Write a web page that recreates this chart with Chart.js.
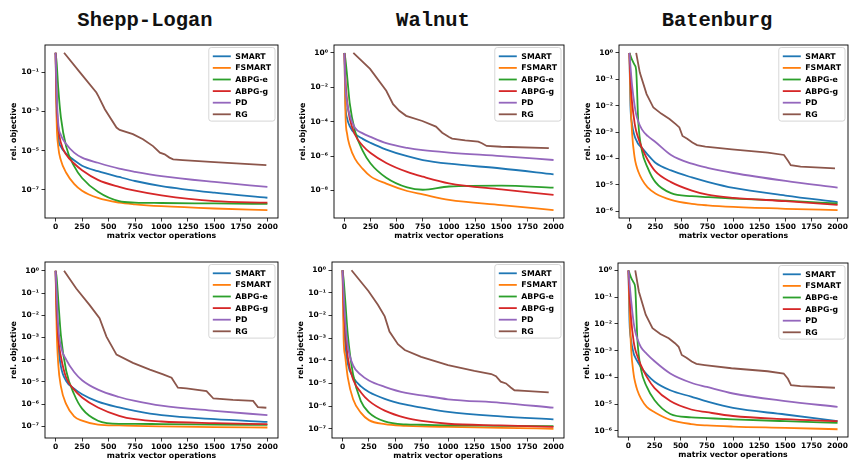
<!DOCTYPE html>
<html>
<head>
<meta charset="utf-8">
<script src="https://cdn.jsdelivr.net/npm/chart.js@4.4.1/dist/chart.umd.min.js"></script>
<style>
  body { margin: 0; background: #fff; width: 849px; height: 460px; position: relative; overflow: hidden; }
  canvas { position: absolute; }
  .title { position: absolute; top: 11px; font: bold 20.5px "Liberation Mono", monospace; color: #111;
           transform: translateX(-50%); white-space: nowrap; line-height: 1; }
</style>
</head>
<body>
<div class="title" style="left:145px">Shepp-Logan</div>
<div class="title" style="left:433px">Walnut</div>
<div class="title" style="left:717px">Batenburg</div>
<canvas id="p1"></canvas>
<canvas id="p2"></canvas>
<canvas id="p3"></canvas>
<canvas id="p4"></canvas>
<canvas id="p5"></canvas>
<canvas id="p6"></canvas>
<script>
// ---- data ----
const seriesNames = ['SMART', 'FSMART', 'ABPG-e', 'ABPG-g', 'PD', 'RG'];
const xTicks = [0, 250, 500, 750, 1000, 1250, 1500, 1750, 2000];

// matrix vector operations at which the smooth curves were read
const xGrid = [0, 10, 25, 50, 100, 175, 250, 400, 600, 750, 1000, 1500, 2000];
const xGridBaten = [0, 10, 25, 50, 65, 85, 120, 175, 250, 400, 600, 750, 1000, 1500, 2000];

// Shepp-Logan, top row
const sheppTopSmart = [1, 1e-3, 4.5e-5, 1.6e-5, 7.1e-6, 3.2e-6, 1.7e-6, 8.9e-7, 4.5e-7, 2.8e-7, 1.55e-7, 7.1e-8, 3.9e-8];
const sheppTopFsmart = [1, 3.2e-4, 1.6e-5, 3.2e-6, 7.4e-7, 2.0e-7, 8.9e-8, 3.8e-8, 2.2e-8, 1.8e-8, 1.45e-8, 1.1e-8, 9.1e-9];
const sheppTopAbpgE = [1, 0.32, 1.6e-2, 5.0e-4, 1.6e-5, 1.6e-6, 4.0e-7, 7.9e-8, 2.6e-8, 2.2e-8, 2.1e-8, 2.0e-8, 1.9e-8];
const sheppTopAbpgG = [1, 3.2e-3, 1.6e-4, 2.5e-5, 6.3e-6, 2.2e-6, 1e-6, 3.2e-7, 1.4e-7, 8.9e-8, 5.1e-8, 2.6e-8, 2.2e-8];
const sheppTopPd = [1, 1e-2, 2.5e-4, 6.3e-5, 2.2e-5, 7.9e-6, 4.4e-6, 2.4e-6, 1.2e-6, 8.3e-7, 5.0e-7, 2.5e-7, 1.4e-7];
const sheppTopRgX = [80, 230, 385, 405, 465, 575, 605, 730, 825, 920, 985, 1030, 1075, 1110, 1200, 1500, 1990];
const sheppTopRg = [1, 0.1, 9.3e-3, 5.9e-3, 1.3e-3, 1.5e-4, 1.15e-4, 6.9e-5, 3.8e-5, 1.7e-5, 7.9e-6, 6.5e-6, 4.4e-6, 3.6e-6, 3.3e-6, 2.6e-6, 1.8e-6];

// Walnut, top row
const walnutTopSmart = [1, 1e-3, 1.6e-4, 5.6e-5, 2.0e-5, 1e-5, 5.9e-6, 2.4e-6, 9.8e-7, 5.9e-7, 3.6e-7, 1.9e-7, 8.7e-8];
const walnutTopFsmart = [1, 2.5e-4, 2.0e-5, 4.0e-6, 7.1e-7, 1.8e-7, 6.6e-8, 2.5e-8, 9.3e-9, 5.9e-9, 2.8e-9, 1.4e-9, 7.2e-10];
const walnutTopAbpgE = [1, 0.4, 5.0e-2, 1.26e-3, 3.0e-5, 2.0e-6, 3.7e-7, 5.5e-8, 1.5e-8, 1.1e-8, 1.7e-8, 1.9e-8, 1.45e-8];
const walnutTopAbpgG = [1, 2.5e-2, 1.6e-3, 1.6e-4, 1.8e-5, 4.0e-6, 1.5e-6, 4.0e-7, 1.2e-7, 6.3e-8, 2.6e-8, 1.15e-8, 5.6e-9];
const walnutTopPd = [1, 1e-2, 1.26e-3, 2.5e-4, 4.5e-5, 2.1e-5, 1.3e-5, 5.6e-6, 3.0e-6, 2.2e-6, 1.6e-6, 1.0e-6, 5.9e-7];
const walnutTopRgX = [85, 245, 400, 465, 525, 590, 745, 875, 935, 1000, 1030, 1155, 1280, 1315, 1360, 1500, 1955];
const walnutTopRg = [1, 0.117, 6.3e-3, 1.05e-3, 4.3e-4, 2.2e-4, 1.1e-4, 5.2e-5, 2.3e-5, 1.3e-5, 1.05e-5, 8.3e-6, 6.9e-6, 5.6e-6, 3.9e-6, 3.5e-6, 2.9e-6];

// Batenburg, top row
const batenTopSmart = [1, 1e-2, 2.0e-3, 7.1e-4, 5.0e-4, 3.5e-4, 2.5e-4, 1.4e-4, 6.9e-5, 3.5e-5, 1.9e-5, 1.3e-5, 7.6e-6, 3.9e-6, 2.2e-6];
const batenTopFsmart = [1, 2.5e-2, 1e-3, 1.1e-4, 5.6e-5, 3.2e-5, 1.6e-5, 7.9e-6, 4.7e-6, 2.7e-6, 1.9e-6, 1.66e-6, 1.45e-6, 1.23e-6, 1.1e-6];
const batenTopAbpgE = [1, 0.79, 0.56, 0.35, 0.22, 2.5e-3, 2.0e-4, 4.5e-5, 1.26e-5, 4.8e-6, 3.7e-6, 3.4e-6, 3.0e-6, 2.5e-6, 1.95e-6];
const batenTopAbpgG = [1, 0.1, 1.4e-2, 2.2e-3, 1.1e-3, 6.0e-4, 2.5e-4, 8.9e-5, 3.2e-5, 1.26e-5, 6.0e-6, 4.2e-6, 3.2e-6, 2.4e-6, 1.74e-6];
const batenTopPd = [1, 0.32, 6.3e-2, 1e-2, 4.7e-3, 2.5e-3, 1.26e-3, 7.1e-4, 4.2e-4, 1.35e-4, 6.3e-5, 4.4e-5, 2.8e-5, 1.4e-5, 7.8e-6];
const batenTopRgX = [65, 100, 165, 230, 305, 385, 445, 480, 510, 555, 605, 650, 730, 985, 1330, 1485, 1525, 1550, 1645, 1975];
const batenTopRg = [1, 0.18, 2.75e-2, 8.5e-3, 5.0e-3, 3.1e-3, 2.0e-3, 1.5e-3, 7.1e-4, 5.6e-4, 4.0e-4, 3.2e-4, 2.8e-4, 2.2e-4, 1.66e-4, 1.35e-4, 7.9e-5, 5.5e-5, 4.9e-5, 4.2e-5];

// Shepp-Logan, bottom row
const sheppBotSmart = [1, 1e-2, 5e-4, 5e-5, 1.1e-5, 5e-6, 2.8e-6, 1.3e-6, 7.1e-7, 5e-7, 3.2e-7, 2.1e-7, 1.6e-7];
const sheppBotFsmart = [1, 2.5e-3, 6.3e-5, 6.3e-6, 1e-6, 2.8e-7, 1.8e-7, 1.2e-7, 1.1e-7, 1.05e-7, 1.0e-7, 9.3e-8, 8.9e-8];
const sheppBotAbpgE = [1, 0.5, 5e-2, 1.26e-3, 3.2e-5, 2.8e-6, 6.3e-7, 1.8e-7, 1.3e-7, 1.3e-7, 1.26e-7, 1.2e-7, 1.17e-7];
const sheppBotAbpgG = [1, 2.5e-2, 1e-3, 1.4e-4, 1.55e-5, 4.5e-6, 2.0e-6, 7.1e-7, 3.0e-7, 2.1e-7, 1.66e-7, 1.4e-7, 1.26e-7];
const sheppBotPd = [1, 0.1, 3.2e-3, 4e-4, 1.0e-4, 2.8e-5, 1.2e-5, 4.5e-6, 2.1e-6, 1.4e-6, 8.5e-7, 5e-7, 3.2e-7];
const sheppBotRgX = [80, 195, 320, 415, 480, 575, 730, 890, 1015, 1095, 1155, 1235, 1425, 1490, 1675, 1865, 1910, 1990];
const sheppBotRg = [1, 0.16, 2.95e-2, 7.4e-3, 1.1e-3, 1.7e-4, 7.2e-5, 3.6e-5, 2.2e-5, 1.55e-5, 5.5e-6, 5.1e-6, 3.9e-6, 1.8e-6, 1.55e-6, 1.4e-6, 7.4e-7, 6.9e-7];

// Walnut, bottom row
const walnutBotSmart = [1, 1e-2, 6.3e-4, 7.4e-5, 1.9e-5, 7.4e-6, 4.2e-6, 2.1e-6, 1.15e-6, 8.5e-7, 5.5e-7, 3.5e-7, 2.6e-7];
const walnutBotFsmart = [1, 1e-3, 1.6e-4, 1.8e-5, 2e-6, 5e-7, 2.4e-7, 1.6e-7, 1.35e-7, 1.26e-7, 1.2e-7, 1.1e-7, 1e-7];
const walnutBotAbpgE = [1, 0.4, 5e-2, 1.4e-3, 2.5e-5, 1.6e-6, 5.2e-7, 2.1e-7, 1.55e-7, 1.5e-7, 1.4e-7, 1.35e-7, 1.3e-7];
const walnutBotAbpgG = [1, 4e-2, 2.5e-3, 1.4e-4, 1.5e-5, 4e-6, 1.7e-6, 6.3e-7, 3e-7, 2.2e-7, 1.66e-7, 1.4e-7, 1.2e-7];
const walnutBotPd = [1, 0.1, 6.3e-3, 4.5e-4, 6.3e-5, 2.4e-5, 1.35e-5, 7.1e-6, 3.8e-6, 3.0e-6, 2e-6, 1.4e-6, 8.5e-7];
const walnutBotRgX = [85, 245, 335, 400, 445, 525, 590, 745, 1000, 1250, 1410, 1455, 1500, 1550, 1595, 1630, 1725, 1955];
const walnutBotRg = [1, 0.12, 3.0e-2, 9.1e-3, 1.95e-3, 5.4e-4, 3.0e-4, 1.5e-4, 6.5e-5, 3.6e-5, 2.6e-5, 2.1e-5, 1.2e-5, 1.0e-5, 6.6e-6, 5.0e-6, 4.7e-6, 4.0e-6];

// Batenburg, bottom row
const batenBotSmart = [1, 1.26e-2, 2.5e-3, 7.9e-4, 5.6e-4, 4e-4, 2.4e-4, 1.3e-4, 6.9e-5, 3.3e-5, 1.9e-5, 1.26e-5, 7.2e-6, 4.1e-6, 2.3e-6];
const batenBotFsmart = [1, 4e-2, 1.26e-3, 1.26e-4, 6.3e-5, 3.3e-5, 1.6e-5, 7.9e-6, 5e-6, 2.6e-6, 1.8e-6, 1.6e-6, 1.45e-6, 1.3e-6, 1.15e-6];
const batenBotAbpgE = [1, 0.79, 0.54, 0.35, 0.22, 2.8e-3, 2e-4, 4.5e-5, 1.4e-5, 4.3e-6, 3.2e-6, 3.0e-6, 2.7e-6, 2.3e-6, 2e-6];
const batenBotAbpgG = [1, 0.126, 1.6e-2, 2.2e-3, 1.1e-3, 6.3e-4, 2.8e-4, 1.05e-4, 4e-5, 1.3e-5, 6.3e-6, 5e-6, 3.6e-6, 2.75e-6, 2.3e-6];
const batenBotPd = [1, 0.35, 7.9e-2, 1.1e-2, 5.2e-3, 2.8e-3, 1.35e-3, 7.6e-4, 4e-4, 1.4e-4, 6.3e-5, 4.4e-5, 2.5e-5, 1.3e-5, 7.9e-6];
const batenBotRgX = [65, 100, 165, 230, 305, 385, 445, 480, 510, 555, 605, 650, 730, 985, 1330, 1485, 1525, 1555, 1645, 1975];
const batenBotRg = [1, 0.16, 2.2e-2, 6.9e-3, 4.2e-3, 2.9e-3, 1.9e-3, 1.4e-3, 6.9e-4, 5.4e-4, 3.9e-4, 3.2e-4, 2.9e-4, 2.2e-4, 1.7e-4, 1.4e-4, 8.9e-5, 5.1e-5, 4.7e-5, 4.1e-5];

// y axis ticks and limits
const sheppTopYTicks = [1e-7, 1e-5, 1e-3, 1e-1];
const walnutTopYTicks = [1e-8, 1e-6, 1e-4, 1e-2, 1];
const batenTopYTicks = [1e-6, 1e-5, 1e-4, 1e-3, 1e-2, 1e-1, 1];
const sheppBotYTicks = [1e-7, 1e-6, 1e-5, 1e-4, 1e-3, 1e-2, 1e-1, 1];
const walnutBotYTicks = [1e-7, 1e-6, 1e-5, 1e-4, 1e-3, 1e-2, 1e-1, 1];
const batenBotYTicks = [1e-6, 1e-5, 1e-4, 1e-3, 1e-2, 1e-1, 1];
const sheppTopRange = [3.6e-9, 2.5];
const walnutTopRange = [2.5e-10, 2.9];
const batenTopRange = [5.5e-7, 2.0];
const sheppBotRange = [3.4e-8, 2.5];
const walnutBotRange = [3.9e-8, 2.3];
const batenBotRange = [5.9e-7, 1.9];

// ---- drawing ----
const seriesColors = ['#1f77b4', '#ff7f0e', '#2ca02c', '#d62728', '#9467bd', '#8c564b'];
const SUP = { '-': '\u207b', '0': '\u2070', '1': '\u00b9', '2': '\u00b2', '3': '\u00b3',
  '4': '\u2074', '5': '\u2075', '6': '\u2076', '7': '\u2077', '8': '\u2078', '9': '\u2079' };

function supLabel(v) {
  const e = Math.round(Math.log10(v));
  return '10' + String(e).split('').map(c => SUP[c]).join('');
}

Chart.defaults.font.family = '"DejaVu Sans", sans-serif';
Chart.defaults.color = '#000';

const framePlugin = {
  id: 'frame',
  afterDatasetsDraw(chart) {
    const { ctx, chartArea: a } = chart;
    ctx.save();
    ctx.strokeStyle = '#000';
    ctx.lineWidth = 0.9;
    ctx.strokeRect(a.left, a.top, a.right - a.left, a.bottom - a.top);
    ctx.restore();
  }
};

// legend box drawn inside the plot, top right
const insideLegend = {
  id: 'insideLegend',
  afterDatasetsDraw(chart) {
    const { ctx, chartArea } = chart;
    const sets = chart.data.datasets;
    ctx.save();
    ctx.font = 'bold 7.8px "DejaVu Sans"';
    const textW = Math.max(...sets.map(d => ctx.measureText(d.label).width));
    const rowH = 11.6;
    const w = 4 + 18 + 4.5 + textW + 4;
    const h = 3 + rowH * sets.length + 1;
    const x = chartArea.right - 3 - w;
    const y = chartArea.top + 2.5;
    ctx.beginPath();
    ctx.roundRect(x, y, w, h, 2.5);
    ctx.fillStyle = 'rgba(255,255,255,0.8)';
    ctx.fill();
    ctx.strokeStyle = '#cccccc';
    ctx.lineWidth = 0.8;
    ctx.stroke();
    ctx.textBaseline = 'middle';
    sets.forEach((d, i) => {
      const cy = y + 3 + rowH * (i + 0.5);
      ctx.beginPath();
      ctx.moveTo(x + 4, cy);
      ctx.lineTo(x + 22, cy);
      ctx.strokeStyle = d.borderColor;
      ctx.lineWidth = 1.8;
      ctx.stroke();
      ctx.fillStyle = '#000';
      ctx.fillText(d.label, x + 26.5, cy + 0.5);
    });
    ctx.restore();
  }
};

function axisGrid() {
  return { display: true, drawOnChartArea: false, drawTicks: true, tickLength: 3.5, color: '#000', lineWidth: 0.8 };
}

function buildPanel(p) {
  const cv = document.getElementById(p.id);
  cv.width = p.box.w;
  cv.height = p.box.h;
  cv.style.left = p.box.left + 'px';
  cv.style.top = p.box.top + 'px';

  const datasets = p.series.map((ys, i) => ({
    label: seriesNames[i],
    data: ys.map((y, k) => ({ x: p.x[k], y })),
    borderColor: seriesColors[i],
    borderWidth: 1.8,
    pointRadius: 0,
    fill: false,
    cubicInterpolationMode: 'monotone',
    order: -i
  }));
  datasets.push({
    label: seriesNames[5],
    data: p.rgY.map((y, k) => ({ x: p.rgX[k], y })),
    borderColor: seriesColors[5],
    borderWidth: 1.8,
    pointRadius: 0,
    fill: false,
    tension: 0,
    order: -5
  });

  new Chart(cv, {
    type: 'line',
    data: { datasets },
    options: {
      responsive: false,
      animation: false,
      devicePixelRatio: 1,
      events: [],
      layout: { padding: { top: 10, right: 8, left: 0, bottom: 0 } },
      plugins: { legend: { display: false }, tooltip: { enabled: false } },
      scales: {
        x: {
          type: 'linear',
          min: -100,
          max: 2100,
          afterBuildTicks: s => { s.ticks = xTicks.map(v => ({ value: v })); },
          afterFit: s => { s.height = 30; },
          ticks: { autoSkip: false, maxRotation: 0, padding: 1, color: '#000', font: { size: 7.5, weight: 'bold' },
                   callback: v => String(v) },
          grid: axisGrid(),
          border: { display: false },
          title: { display: true, text: 'matrix vector operations', color: '#000',
                   font: { size: 7.8, weight: 'bold' }, padding: { top: 0, bottom: 7 } }
        },
        y: {
          type: 'logarithmic',
          min: p.range[0],
          max: p.range[1],
          afterBuildTicks: s => { s.ticks = p.yTicks.map(v => ({ value: v })); },
          afterFit: s => { s.width = 45; },
          ticks: { autoSkip: false, padding: 2.5, color: '#000', font: { size: 7.5, weight: 'bold' },
                   callback: v => supLabel(v) },
          grid: axisGrid(),
          border: { display: false },
          title: { display: true, text: 'rel. objective', color: '#000',
                   font: { size: 7.8, weight: 'bold' }, padding: { top: 9, bottom: 0 } }
        }
      }
    },
    plugins: [framePlugin, insideLegend]
  });
}

const panels = [
  { id: 'p1', box: { left: 0, top: 35, w: 286, h: 213 }, x: xGrid,
    series: [sheppTopSmart, sheppTopFsmart, sheppTopAbpgE, sheppTopAbpgG, sheppTopPd],
    rgX: sheppTopRgX, rgY: sheppTopRg, range: sheppTopRange, yTicks: sheppTopYTicks },
  { id: 'p2', box: { left: 289, top: 35, w: 283, h: 213 }, x: xGrid,
    series: [walnutTopSmart, walnutTopFsmart, walnutTopAbpgE, walnutTopAbpgG, walnutTopPd],
    rgX: walnutTopRgX, rgY: walnutTopRg, range: walnutTopRange, yTicks: walnutTopYTicks },
  { id: 'p3', box: { left: 574, top: 35, w: 282, h: 213 }, x: xGridBaten,
    series: [batenTopSmart, batenTopFsmart, batenTopAbpgE, batenTopAbpgG, batenTopPd],
    rgX: batenTopRgX, rgY: batenTopRg, range: batenTopRange, yTicks: batenTopYTicks },
  { id: 'p4', box: { left: 0, top: 252, w: 286, h: 216 }, x: xGrid,
    series: [sheppBotSmart, sheppBotFsmart, sheppBotAbpgE, sheppBotAbpgG, sheppBotPd],
    rgX: sheppBotRgX, rgY: sheppBotRg, range: sheppBotRange, yTicks: sheppBotYTicks },
  { id: 'p5', box: { left: 287, top: 252, w: 285, h: 216 }, x: xGrid,
    series: [walnutBotSmart, walnutBotFsmart, walnutBotAbpgE, walnutBotAbpgG, walnutBotPd],
    rgX: walnutBotRgX, rgY: walnutBotRg, range: walnutBotRange, yTicks: walnutBotYTicks },
  { id: 'p6', box: { left: 573, top: 253, w: 283, h: 214 }, x: xGridBaten,
    series: [batenBotSmart, batenBotFsmart, batenBotAbpgE, batenBotAbpgG, batenBotPd],
    rgX: batenBotRgX, rgY: batenBotRg, range: batenBotRange, yTicks: batenBotYTicks }
];

panels.forEach(buildPanel);
</script>
</body>
</html>
